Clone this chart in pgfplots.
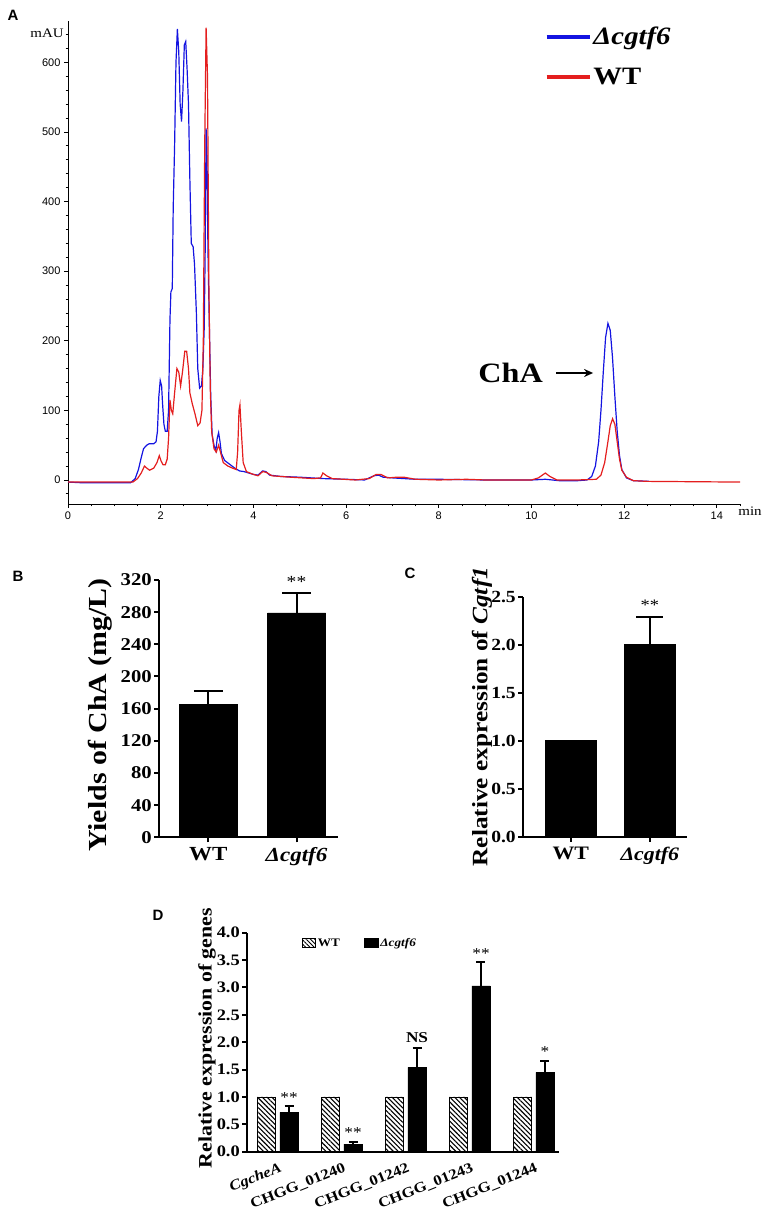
\documentclass[border=0pt]{standalone}
\usepackage{fontspec}
\setmainfont{Liberation Serif}[FakeStretch=1.15]
\setsansfont{Liberation Sans}
\usepackage{pgfplots}
\pgfplotsset{compat=1.18}
\usetikzlibrary{patterns.meta,arrows.meta}
\newcommand{\fs}[1]{\fontsize{#1pt}{#1pt}\selectfont}
\definecolor{cblue}{RGB}{20,20,225}
\definecolor{cred}{RGB}{228,30,30}
\begin{document}
\begin{tikzpicture}
\useasboundingbox (0pt,0pt) rectangle (765pt,1210pt);
% ---------------- Panel A ----------------
\begin{axis}[
  at={(68pt,706pt)}, anchor=south west, scale only axis,
  width=672pt, height=483.4pt,
  xmin=0, xmax=14.5, ymin=-34.5, ymax=660,
  axis x line=bottom, axis y line=left,
  axis line style={-, line width=0.8pt},
  xtick={0,2,...,14}, ytick={0,100,...,600},
  minor xtick={0.5,1,...,14.5}, minor ytick={-20,20,40,...,640},
  tick align=outside, major tick length=4pt, minor tick length=2.5pt,
  every tick/.style={black, line width=0.8pt},
  ticklabel style={font=\sffamily\fs{11}},
  /pgf/number format/assume math mode=true,
  legend style={at={(axis description cs:0.705,0.995)}, anchor=north west,
    draw=none, fill=none, font=\fs{25}\bfseries, row sep=18pt,
    cells={anchor=west}},
  clip=false,
]
\addplot[cblue, line width=1.2pt, legend image code/.code={\draw[cblue,line width=3.5pt] (0pt,0pt) -- (43pt,0pt);}] coordinates {
(0,-3) (0.3,-4) (1.0,-4) (1.35,-4) (1.45,2) (1.52,15) (1.58,32) (1.63,45) (1.7,50)
(1.75,52) (1.85,52) (1.9,55) (1.93,70) (1.96,120) (1.99,143) (2.02,135) (2.04,110)
(2.07,80) (2.1,70) (2.14,70) (2.17,100) (2.2,230) (2.22,270) (2.25,275) (2.27,390)
(2.3,480) (2.33,600) (2.36,648) (2.39,615) (2.42,540) (2.45,515) (2.48,560) (2.51,625)
(2.54,630) (2.57,590) (2.6,540) (2.63,430) (2.66,340) (2.7,335) (2.73,310) (2.77,240)
(2.8,160) (2.84,132) (2.88,135) (2.91,160) (2.94,220) (2.96,330) (2.98,505) (3.0,460)
(3.02,330) (3.05,220) (3.08,120) (3.11,65) (3.15,50) (3.19,42) (3.22,60) (3.25,68)
(3.28,55) (3.31,38) (3.38,28) (3.5,22) (3.6,17) (3.7,13) (3.8,12) (4.0,8) (4.1,7)
(4.2,13) (4.27,12) (4.35,7) (4.6,5) (5.0,4) (5.5,2) (6.0,1) (6.4,0) (6.6,6) (6.7,7)
(6.8,4) (7.0,3) (7.5,1) (8.0,1) (9.0,0) (10.0,0) (10.3,1) (10.6,-1) (11.0,-1) (11.2,0)
(11.3,5) (11.38,20) (11.45,55) (11.5,100) (11.55,155) (11.6,205) (11.65,225) (11.7,215)
(11.75,175) (11.8,120) (11.85,70) (11.9,35) (11.95,15) (12.05,3) (12.2,-1) (12.54,-2)
};
\addlegendentry{\textit{Δcgtf6}}
\addplot[cred, line width=1.2pt, legend image code/.code={\draw[cred,line width=3.5pt] (0pt,0pt) -- (43pt,0pt);}] coordinates {
(0,-3) (1.0,-3) (1.4,-3) (1.5,2) (1.58,10) (1.65,20) (1.7,17) (1.76,14) (1.85,17)
(1.92,25) (1.97,35) (2.01,27) (2.05,22) (2.1,22) (2.14,30) (2.17,60) (2.2,115)
(2.23,100) (2.26,95) (2.3,125) (2.35,160) (2.39,155) (2.43,135) (2.47,155) (2.52,185)
(2.56,185) (2.6,160) (2.63,125) (2.68,110) (2.74,95) (2.8,78) (2.85,82) (2.89,100)
(2.92,200) (2.95,480) (2.98,650) (3.01,580) (3.04,280) (3.07,130) (3.1,70) (3.15,45)
(3.2,40) (3.25,50) (3.29,40) (3.35,25) (3.45,20) (3.55,17) (3.63,15) (3.66,40)
(3.69,100) (3.71,108) (3.74,70) (3.78,25) (3.85,12) (4.0,8) (4.1,6) (4.2,12) (4.28,11)
(4.4,6) (4.8,4) (5.3,2) (5.45,3) (5.5,10) (5.58,6) (5.7,2) (6.2,0) (6.5,2) (6.65,8)
(6.75,8) (6.9,3) (7.1,4) (7.25,4) (7.5,1) (8.0,0) (8.6,1) (9.0,0) (10.0,0) (10.15,3)
(10.3,10) (10.4,5) (10.55,0) (11.0,0) (11.4,1) (11.5,7) (11.58,25) (11.65,55) (11.7,78)
(11.75,88) (11.8,80) (11.85,55) (11.9,30) (11.95,14) (12.05,4) (12.2,-1) (12.5,-2) (14.5,-3)
};
\addlegendentry{WT}
\node[font=\fs{28}\bfseries] at (axis cs:9.55,153.7) {ChA};
\draw[-{Stealth[length=9pt,width=8pt]}, line width=2.2pt] (axis cs:10.54,153.7) -- (axis cs:11.33,153.7);
\end{axis}
\node[font=\fs{13}] at (47pt,1177pt) {mAU};
\node[font=\fs{13}] at (750pt,699pt) {min};
\node[font=\sffamily\bfseries\fs{15}] at (13pt,1195pt) {A};
% ---------------- Panel B ----------------
\begin{axis}[
  at={(159.3pt,372.7pt)}, anchor=south west, scale only axis,
  width=179pt, height=257.3pt,
  xmin=-0.556, xmax=1.474, ymin=0, ymax=320,
  axis x line=bottom, axis y line=left,
  axis line style={-, line width=2pt},
  ybar, bar width=58pt,
  xtick={0,1}, xticklabels={WT,\textit{Δcgtf6}},
  ytick={0,40,...,320},
  tick align=outside, major tick length=5pt,
  every tick/.style={black, line width=2pt},
  x tick label style={font=\fs{20}\bfseries, yshift=-2pt},
  y tick label style={font=\fs{18}\bfseries, xshift=1pt},
  /pgf/number format/assume math mode=true,
  ylabel={Yields of ChA (mg/L)},
  ylabel style={font=\fs{26}\bfseries, at={(axis description cs:-0.33,0.475)}, anchor=center},
  clip=false,
]
\addplot[fill=black, draw=black,
  error bars/.cd, y dir=plus, y explicit,
  error bar style={line width=2pt, black},
  error mark options={rotate=90, line width=2pt, mark size=14.5pt, black}]
  coordinates {(0,165) +- (0,17) (1,279) +- (0,24.5)};
\node[font=\fs{17}, anchor=south] at (axis cs:1,306) {**};
\end{axis}
\node[font=\sffamily\bfseries\fs{15}] at (18pt,634pt) {B};
% ---------------- Panel C ----------------
\begin{axis}[
  at={(523.3pt,373.3pt)}, anchor=south west, scale only axis,
  width=163.4pt, height=240pt,
  xmin=-0.601, xmax=1.467, ymin=0, ymax=2.5,
  axis x line=bottom, axis y line=left,
  axis line style={-, line width=2pt},
  ybar, bar width=51.7pt,
  xtick={0,1}, xticklabels={WT,\textit{Δcgtf6}},
  ytick={0,0.5,...,2.5},
  /pgf/number format/fixed, /pgf/number format/fixed zerofill, /pgf/number format/precision=1,
  tick align=outside, major tick length=5pt,
  every tick/.style={black, line width=2pt},
  x tick label style={font=\fs{19}\bfseries, yshift=-2pt},
  y tick label style={font=\fs{17}\bfseries, xshift=1pt},
  /pgf/number format/assume math mode=true,
  ylabel={Relative expression of \textit{Cgtf1}},
  ylabel style={font=\fs{22}\bfseries, at={(axis description cs:-0.253,0.5)}, anchor=center},
  clip=false,
]
\addplot[fill=black, draw=black, bar shift=0pt] coordinates {(0,1)};
\addplot[fill=black, draw=black, bar shift=0pt,
  error bars/.cd, y dir=plus, y explicit,
  error bar style={line width=2pt, black},
  error mark options={rotate=90, line width=2pt, mark size=13.5pt, black}]
  coordinates {(1,2.01) +- (0,0.28)};
\node[font=\fs{16}, anchor=south] at (axis cs:1,2.32) {**};
\end{axis}
\node[font=\sffamily\bfseries\fs{15}] at (410pt,637pt) {C};
% ---------------- Panel D ----------------
\begin{axis}[
  at={(247.3pt,58.3pt)}, anchor=south west, scale only axis,
  width=312pt, height=219pt,
  xmin=-0.477, xmax=4.40, ymin=0, ymax=4,
  axis x line=bottom, axis y line=left,
  axis line style={-, line width=2pt},
  ybar=4.2pt, bar width=18.3pt,
  xtick={0,1,2,3,4},
  xticklabels={\textit{CgcheA},CHGG\_01240,CHGG\_01242,CHGG\_01243,CHGG\_01244},
  x tick label style={font=\fs{14.5}\bfseries, rotate=22, anchor=north east, inner sep=1pt, yshift=-4pt},
  xtick style={draw=none},
  ytick={0,0.5,...,4},
  /pgf/number format/fixed, /pgf/number format/fixed zerofill, /pgf/number format/precision=1,
  tick align=outside, major tick length=5pt,
  ytick style={black, line width=2pt},
  y tick label style={font=\fs{16}\bfseries, xshift=1pt},
  /pgf/number format/assume math mode=true,
  ylabel={Relative expression of genes},
  ylabel style={font=\fs{19}\bfseries, at={(axis description cs:-0.129,0.519)}, anchor=center},
  legend style={at={(axis description cs:0.165,0.953)}, anchor=west, legend columns=2,
    draw=none, fill=none, font=\fs{11.5}\bfseries,
    /tikz/every even column/.append style={column sep=22pt}},
  clip=false,
]
\addplot[draw=black, line width=0.9pt, pattern color=black,
  pattern={Lines[angle=-45,distance=3.4pt,line width=1.1pt]},
  legend image code/.code={\draw[black, line width=0.8pt, pattern color=black, pattern={Lines[angle=-45,distance=3pt,line width=1pt]}] (0pt,-4.5pt) rectangle (13pt,4.5pt);}]
  coordinates {(0,1) (1,1) (2,1) (3,1) (4,1)};
\addlegendentry{WT}
\addplot[fill=black, draw=black,
  legend image code/.code={\fill[black] (0pt,-4.5pt) rectangle (14pt,4.5pt);},
  error bars/.cd, y dir=plus, y explicit,
  error bar style={line width=2pt, black},
  error mark options={rotate=90, line width=2pt, mark size=4.5pt, black}]
  coordinates {(0,0.72) +- (0,0.11) (1,0.14) +- (0,0.04) (2,1.54) +- (0,0.36) (3,3.03) +- (0,0.43) (4,1.45) +- (0,0.21)};
\addlegendentry{\textit{Δcgtf6}}
\node[font=\fs{15}, anchor=south] at (axis cs:0.176,0.84) {**};
\node[font=\fs{15}, anchor=south] at (axis cs:1.176,0.19) {**};
\node[font=\fs{15}\bfseries, anchor=south] at (axis cs:2.176,1.92) {NS};
\node[font=\fs{15}, anchor=south] at (axis cs:3.176,3.47) {**};
\node[font=\fs{15}, anchor=south] at (axis cs:4.176,1.67) {*};
\end{axis}
\node[font=\sffamily\bfseries\fs{15}] at (158pt,295pt) {D};
\end{tikzpicture}
\end{document}
